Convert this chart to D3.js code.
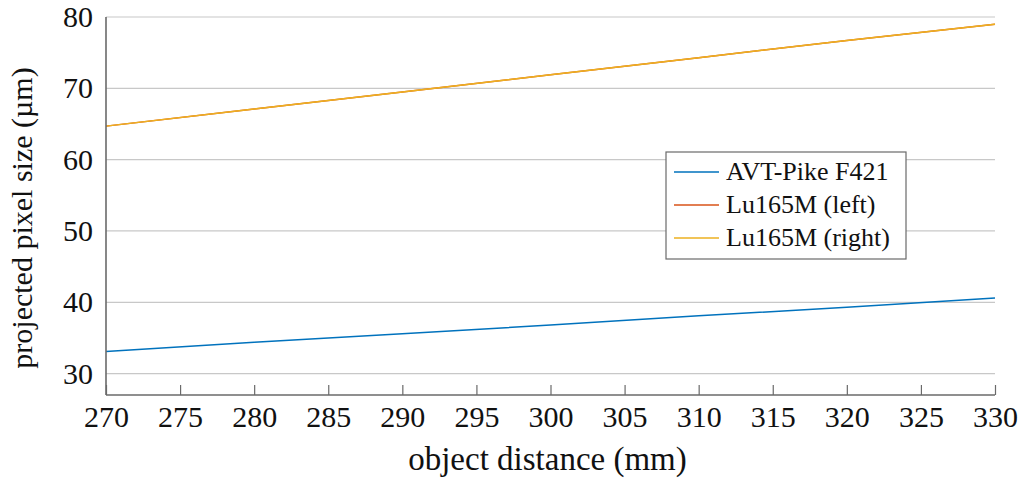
<!DOCTYPE html>
<html lang="en">
<head>
    <meta charset="UTF-8">
    <title>Projected pixel size vs object distance</title>
    <script src="https://d3js.org/d3.v7.min.js"></script>
    <style>
        body { margin: 0; background: #fff; }
        svg { font-family: "Liberation Serif", "DejaVu Serif", serif; }
        .grid line { stroke: #c8c8c8; stroke-width: 1.2; }
        .axis-line { stroke: #6a6a6a; stroke-width: 1.6; }
        .axis-label { font-size: 31px; fill: #111; }
        .legend-text { font-size: 26px; fill: #111; }
    </style>
</head>
<body>
<div id="chart"></div>
<script>
    // Data
    const distances = [270, 280, 290, 300, 310, 320, 330];
    const avtPike = [33.1, 34.4, 35.6, 36.8, 38.1, 39.3, 40.6];
    const lu165Left = [64.7, 67.1, 69.5, 71.9, 74.3, 76.7, 79.0];
    const lu165Right = [64.7, 67.1, 69.5, 71.9, 74.3, 76.7, 79.0];
    const xTicks = [270, 275, 280, 285, 290, 295, 300, 305, 310, 315, 320, 325, 330];
    const yTicks = [30, 40, 50, 60, 70, 80];

    const seriesNames = ["AVT-Pike F421", "Lu165M (left)", "Lu165M (right)"];
    const seriesValues = [avtPike, lu165Left, lu165Right];
    const colors = ["#0072BD", "#D95319", "#EDB120"];

    const width = 1022, height = 482;
    const margin = {top: 17, right: 27, bottom: 87, left: 106};
    const innerWidth = width - margin.left - margin.right;
    const innerHeight = height - margin.top - margin.bottom;

    const serif = '"Liberation Serif", "DejaVu Serif", serif';

    const svg = d3.select("#chart").append("svg")
        .attr("width", width)
        .attr("height", height);

    const g = svg.append("g")
        .attr("transform", `translate(${margin.left},${margin.top})`);

    const x = d3.scaleLinear().domain([270, 330]).range([0, innerWidth]);
    const y = d3.scaleLinear().domain([27, 80]).range([innerHeight, 0]);

    // horizontal grid
    g.append("g")
        .attr("class", "grid")
        .selectAll("line")
        .data(yTicks)
        .enter()
        .append("line")
        .attr("x1", 0)
        .attr("x2", innerWidth)
        .attr("y1", d => y(d))
        .attr("y2", d => y(d));

    // lines
    const line = d3.line()
        .x((d, i) => x(distances[i]))
        .y(d => y(d));

    seriesValues.forEach((vals, i) => {
        g.append("path")
            .datum(vals)
            .attr("fill", "none")
            .attr("stroke", colors[i])
            .attr("stroke-width", 1.5)
            .attr("d", line);
    });

    function styleTicks(sel) {
        sel.selectAll(".tick text")
            .style("font-family", serif)
            .style("font-size", "30px")
            .attr("fill", "#111");
    }

    // x axis: ticks pointing inward, labels below
    const xAxis = d3.axisBottom(x)
        .tickValues(xTicks)
        .tickSizeInner(-10)
        .tickSizeOuter(0)
        .tickPadding(11);
    const xg = g.append("g")
        .attr("transform", `translate(0,${innerHeight})`)
        .call(xAxis);
    xg.select(".domain").remove();
    xg.selectAll(".tick line").attr("stroke", "#6a6a6a").attr("stroke-width", 1.2);
    styleTicks(xg);

    // y axis labels
    const yAxis = d3.axisLeft(y)
        .tickValues(yTicks)
        .tickSize(0)
        .tickPadding(13);
    const yg = g.append("g").call(yAxis);
    yg.select(".domain").remove();
    styleTicks(yg);

    // axis lines (left and bottom only)
    g.append("line").attr("class", "axis-line")
        .attr("x1", 0).attr("x2", 0).attr("y1", 0).attr("y2", innerHeight);
    g.append("line").attr("class", "axis-line")
        .attr("x1", 0).attr("x2", innerWidth).attr("y1", innerHeight).attr("y2", innerHeight);

    // axis titles
    svg.append("text")
        .attr("class", "axis-label")
        .attr("text-anchor", "middle")
        .style("font-size", "33px")
        .attr("x", margin.left + innerWidth / 2 - 3)
        .attr("y", 470)
        .text("object distance (mm)");

    svg.append("text")
        .attr("class", "axis-label")
        .attr("text-anchor", "middle")
        .style("font-size", "30px")
        .attr("transform", `translate(32,${margin.top + innerHeight / 2 + 12}) rotate(-90)`)
        .text("projected pixel size (µm)");

    // legend
    const legend = svg.append("g").attr("transform", "translate(666,152)");
    legend.append("rect")
        .attr("width", 240)
        .attr("height", 107)
        .attr("fill", "#fff")
        .attr("stroke", "#6a6a6a")
        .attr("stroke-width", 1.2);

    seriesNames.forEach((name, i) => {
        const row = legend.append("g").attr("transform", `translate(0,${20 + i * 33})`);
        row.append("line")
            .attr("x1", 8).attr("x2", 53)
            .attr("y1", 0).attr("y2", 0)
            .attr("stroke", colors[i])
            .attr("stroke-width", 1.5);
        row.append("text")
            .attr("class", "legend-text")
            .attr("x", 60)
            .attr("y", 8)
            .text(name);
    });
</script>
</body>
</html>
